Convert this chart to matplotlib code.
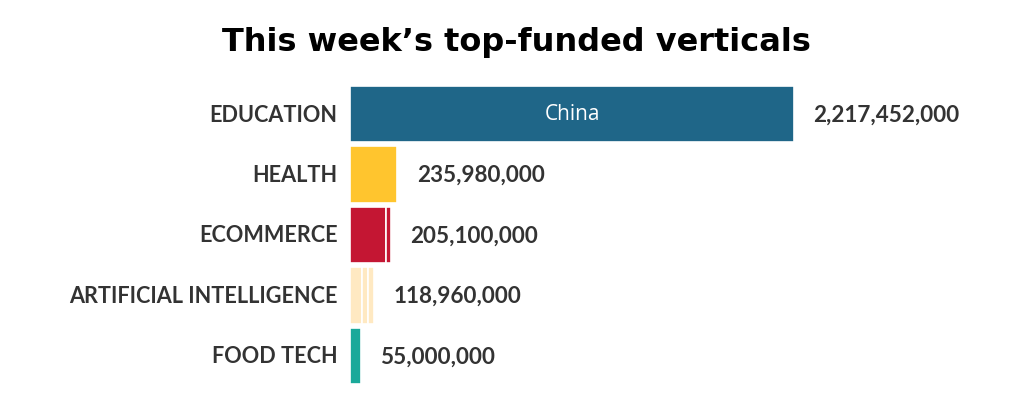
import matplotlib
matplotlib.use("Agg")
import matplotlib.pyplot as plt

# data
verticals = ["EDUCATION", "HEALTH", "ECOMMERCE", "ARTIFICIAL INTELLIGENCE", "FOOD TECH"]
totals = [2217452000, 235980000, 205100000, 118960000, 55000000]
# each bar is built from deals (segments)
segments = [
    [2217452000],
    [235980000],
    [180000000, 25100000],
    [60000000, 32000000, 26960000],
    [55000000],
]
colors = ["#1f6688", "#ffc52e", "#c41633", "#ffe9c2", "#1aa99a"]
inside_label = {0: "China"}

fig = plt.figure(figsize=(10.33, 4.10), dpi=100)
ax = fig.add_axes([350/1033, 0, 683/1033, 1])

for i, segs in enumerate(segments):
    left = 0
    for s in segs:
        ax.barh(i, s, left=left, height=0.93, color=colors[i],
                edgecolor="white", linewidth=1.2)
        left += s
    ax.annotate("{:,}".format(totals[i]), xy=(totals[i], i), xytext=(14, 0),
                textcoords="offset points", va="center", ha="left",
                fontsize=16.2, fontweight="bold", color="#333333", family="Lato")
    ax.annotate(verticals[i], xy=(0, i), xytext=(-9, 0),
                textcoords="offset points", ha="right", va="center",
                fontsize=15.6, fontweight="bold", color="#333333", family="Lato")
    if i in inside_label:
        ax.text(totals[i] / 2, i, inside_label[i], ha="center", va="center",
                fontsize=15, color="white", family="Open Sans")

ax.set_xlim(0, 683/444 * totals[0])
ax.set_ylim(4 + 53/60.5, -115/60.5)
ax.axis("off")

fig.text(0.5, 1 - 42/410, "This week\u2019s top-funded verticals", ha="center",
         va="center", fontsize=23, fontweight="bold", color="black",
         family="DejaVu Sans")

fig.savefig("out.png", dpi=100, facecolor="white")
